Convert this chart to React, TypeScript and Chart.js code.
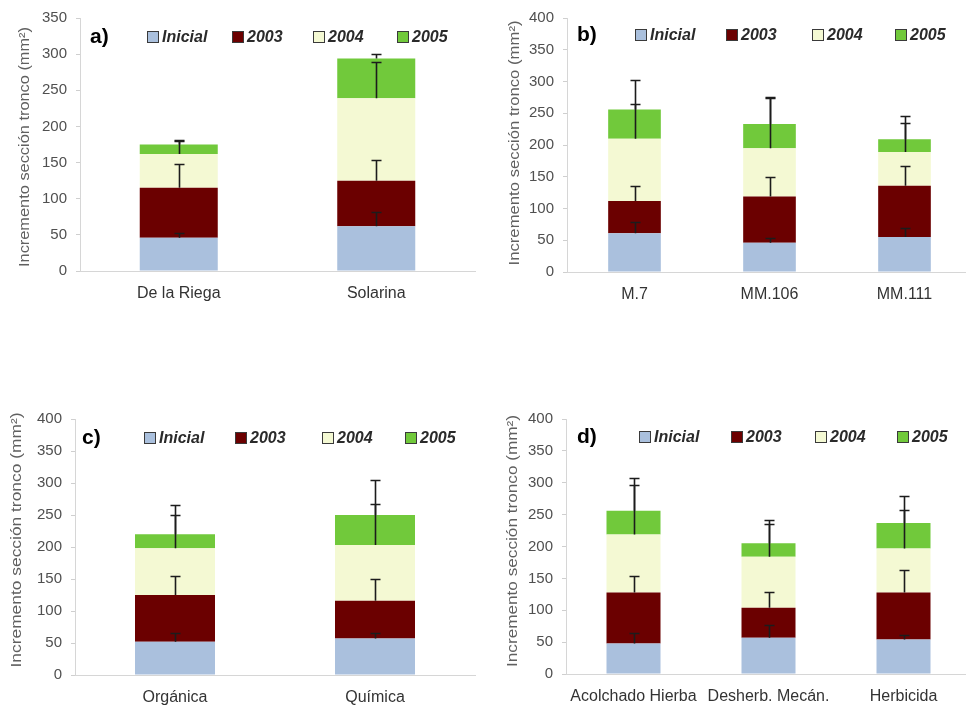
import React, { useEffect, useRef } from "react";
import { Chart, registerables } from "chart.js";

Chart.register(...registerables);

// ---------- DATA ----------
const SERIES = ["Inicial", "2003", "2004", "2005"];
const COLORS = ["#aac0dd", "#6b0000", "#f4f9d3", "#71c93b"];

const catsA = ["De la Riega", "Solarina"];
const aInicial = [46, 62];
const a2003 = [69, 63];
const a2004 = [47, 114];
const a2005 = [13, 55];
const aErrInicial = [7, 19];
const aErr2003 = [33, 29];
const aErr2004 = [19, 50];
const aErr2005 = [5, 6];

const catsB = ["M.7", "MM.106", "MM.111"];
const bInicial = [61, 46, 55];
const b2003 = [51, 73, 81];
const b2004 = [98, 76, 53];
const b2005 = [46, 38, 20];
const bErrInicial = [18, 7, 14];
const bErr2003 = [24, 30, 31];
const bErr2004 = [55, 79, 45];
const bErr2005 = [47, 43, 36];

const catsC = ["Orgánica", "Química"];
const cInicial = [52, 57];
const c2003 = [73, 59];
const c2004 = [73, 87];
const c2005 = [22, 47];
const cErrInicial = [13, 8];
const cErr2003 = [30, 34];
const cErr2004 = [52, 64];
const cErr2005 = [45, 54];

const catsD = ["Acolchado Hierba", "Desherb. Mecán.", "Herbicida"];
const dInicial = [48, 57, 54];
const d2003 = [80, 47, 74];
const d2004 = [91, 80, 69];
const d2005 = [37, 21, 40];
const dErrInicial = [16, 20, 7];
const dErr2003 = [26, 24, 35];
const dErr2004 = [78, 52, 60];
const dErr2005 = [52, 37, 42];

const yTicksStep = 50;
const Y_TITLE = "Incremento sección tronco (mm²)";

// ---------- LAYOUT ----------
const FONT = "Arial, 'Liberation Sans', sans-serif";

const panels = [
  {
    tag: "a)", cats: catsA, max: 350,
    values: [aInicial, a2003, a2004, a2005],
    errors: [aErrInicial, aErr2003, aErr2004, aErr2005],
    left: 0, top: 0, w: 480, h: 310,
    padTop: 17, padRight: 5, yW: 80, xH: 39, barPct: 0.395,
    legendX: [67, 152, 233, 317], legendDy: 19, tagDx: 10,
    titleX: 25, titleCY: 147, titleLen: 240,
  },
  {
    tag: "b)", cats: catsB, max: 400,
    values: [bInicial, b2003, b2004, b2005],
    errors: [bErrInicial, bErr2003, bErr2004, bErr2005],
    left: 480, top: 0, w: 492, h: 310,
    padTop: 17, padRight: 0, yW: 87, xH: 38, barPct: 0.39,
    legendX: [68, 159, 245, 328], legendDy: 17, tagDx: 10,
    titleX: 35, titleCY: 143, titleLen: 245,
  },
  {
    tag: "c)", cats: catsC, max: 400,
    values: [cInicial, c2003, c2004, c2005],
    errors: [cErrInicial, cErr2003, cErr2004, cErr2005],
    left: 0, top: 380, w: 480, h: 332,
    padTop: 39, padRight: 5, yW: 75, xH: 37, barPct: 0.4,
    legendX: [69, 160, 247, 330], legendDy: 19, tagDx: 7,
    titleX: 17, titleCY: 160, titleLen: 255,
  },
  {
    tag: "d)", cats: catsD, max: 400,
    values: [dInicial, d2003, d2004, d2005],
    errors: [dErrInicial, dErr2003, dErr2004, dErr2005],
    left: 480, top: 380, w: 492, h: 332,
    padTop: 39, padRight: 1, yW: 86, xH: 38, barPct: 0.4,
    legendX: [73, 165, 249, 331], legendDy: 18, tagDx: 11,
    titleX: 33, titleCY: 161, titleLen: 252,
  },
];

const decorPlugin = {
  id: "panelDecor",
  afterDatasetsDraw(chart: any) {
    const ctx = chart.ctx;
    const y = chart.scales.y;
    const n = chart.data.labels.length;
    ctx.save();
    ctx.strokeStyle = "#1c1c1c";
    ctx.lineWidth = 1.6;
    for (let i = 0; i < n; i++) {
      let cum = 0;
      chart.data.datasets.forEach((ds: any, di: number) => {
        cum += ds.data[i];
        const e = ds.errorPlus[i];
        const el = chart.getDatasetMeta(di).data[i];
        const xc = Math.round(el.x) + 0.5;
        const y0 = y.getPixelForValue(cum);
        const y1 = Math.round(y.getPixelForValue(cum + e)) + 0.5;
        ctx.beginPath();
        ctx.moveTo(xc, y0);
        ctx.lineTo(xc, y1);
        ctx.moveTo(xc - 5, y1);
        ctx.lineTo(xc + 5, y1);
        ctx.stroke();
      });
    }
    ctx.restore();
  },
  afterDraw(chart: any, _args: any, opts: any) {
    const ctx = chart.ctx;
    const area = chart.chartArea;
    ctx.save();
    const ly = area.top + opts.legendDy;
    ctx.font = `italic bold 16px ${FONT}`;
    ctx.textBaseline = "middle";
    ctx.textAlign = "left";
    chart.data.datasets.forEach((ds: any, i: number) => {
      const bx = area.left + opts.legendX[i];
      ctx.fillStyle = ds.backgroundColor;
      ctx.fillRect(bx, ly - 6, 12, 12);
      ctx.strokeStyle = "#3a3a3a";
      ctx.lineWidth = 1;
      ctx.strokeRect(bx + 0.5, ly - 5.5, 11, 11);
      ctx.fillStyle = "#2a2a2a";
      ctx.fillText(ds.label, bx + 15, ly + 1);
    });
    ctx.font = `bold 21px ${FONT}`;
    ctx.fillStyle = "#000";
    ctx.fillText(opts.tag, area.left + opts.tagDx, ly);
    ctx.translate(opts.titleX, opts.titleCY);
    ctx.rotate(-Math.PI / 2);
    ctx.font = `14px ${FONT}`;
    const w = ctx.measureText(opts.title).width;
    ctx.scale(opts.titleLen / w, 1);
    ctx.textAlign = "center";
    ctx.fillStyle = "#606060";
    ctx.fillText(opts.title, 0, 0);
    ctx.restore();
  },
};

function makeConfig(p: any): any {
  return {
    type: "bar",
    data: {
      labels: p.cats,
      datasets: SERIES.map((s, i) => ({
        label: s,
        data: p.values[i],
        errorPlus: p.errors[i],
        backgroundColor: COLORS[i],
        borderWidth: 0,
        categoryPercentage: 1,
        barPercentage: p.barPct,
      })),
    },
    options: {
      responsive: false,
      animation: false,
      devicePixelRatio: 1,
      layout: { padding: { top: p.padTop, right: p.padRight, left: 0, bottom: 0 } },
      plugins: {
        legend: { display: false },
        tooltip: { enabled: false },
        panelDecor: {
          legendX: p.legendX, legendDy: p.legendDy, tag: p.tag, tagDx: p.tagDx,
          titleX: p.titleX, titleCY: p.titleCY, titleLen: p.titleLen, title: Y_TITLE,
        },
      },
      scales: {
        x: {
          stacked: true,
          grid: { display: false, drawTicks: false },
          border: { display: true, color: "#d6d6d6", width: 1 },
          ticks: {
            font: { family: FONT, size: 16 }, color: "#333",
            padding: 13, maxRotation: 0, autoSkip: false,
          },
          afterFit: (s: any) => { s.height = p.xH; },
        },
        y: {
          stacked: true,
          min: 0,
          max: p.max,
          ticks: { stepSize: yTicksStep, font: { family: FONT, size: 15 }, color: "#505050", padding: 9 },
          grid: { display: true, drawOnChartArea: false, drawTicks: true, tickLength: 4, color: "#cfcfcf" },
          border: { display: true, color: "#d6d6d6", width: 1 },
          afterFit: (s: any) => { s.width = p.yW; },
        },
      },
    },
    plugins: [decorPlugin],
  };
}

function Panel({ p }: { p: any }) {
  const ref = useRef<HTMLCanvasElement>(null);
  useEffect(() => {
    const chart = new Chart(ref.current as HTMLCanvasElement, makeConfig(p));
    return () => chart.destroy();
  }, [p]);
  return (
    <canvas
      ref={ref}
      width={p.w}
      height={p.h}
      style={{ position: "absolute", left: p.left, top: p.top, width: p.w, height: p.h }}
    />
  );
}

export default function App() {
  return (
    <div
      style={{
        position: "fixed", left: 0, top: 0, width: 966, height: 712,
        overflow: "hidden", background: "#fff",
      }}
    >
      {panels.map((p) => (
        <Panel key={p.tag} p={p} />
      ))}
    </div>
  );
}
